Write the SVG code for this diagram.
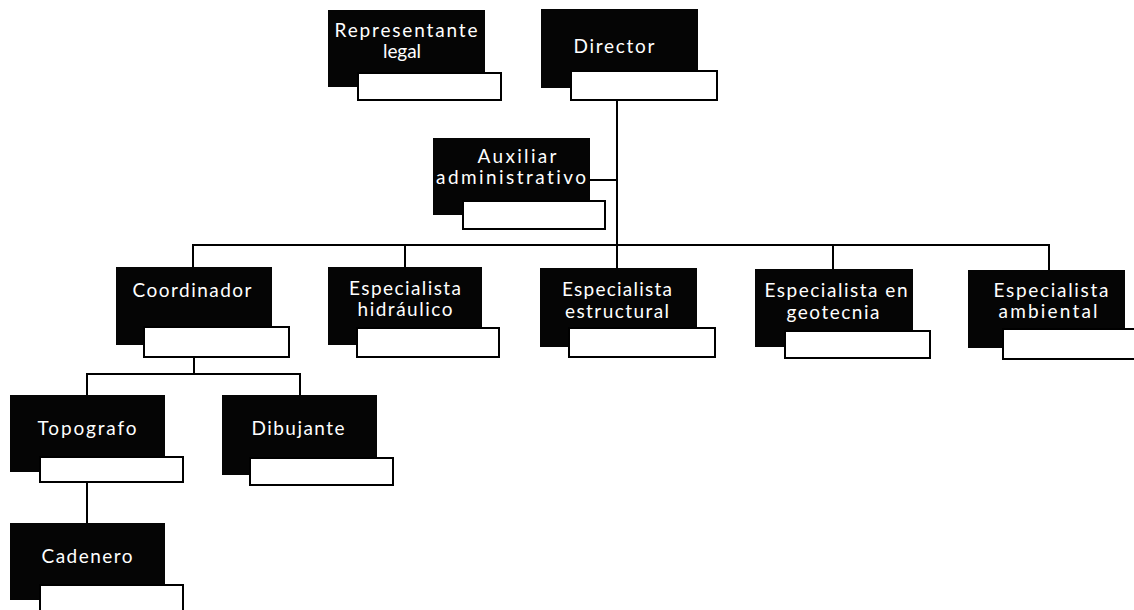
<svg xmlns="http://www.w3.org/2000/svg" width="1134" height="610" viewBox="0 0 1134 610">
<style>
.bg{fill:#fff}
.blk{fill:#050505}
.wht{fill:#fff;stroke:#000;stroke-width:2}
.lbl{font-family:Lato,"Open Sans","Liberation Sans",sans-serif;font-size:19px;fill:#fff;text-anchor:middle;font-variant-ligatures:none}
.conn{stroke:#000;stroke-width:2;fill:none}
</style>
<rect class="bg" x="0" y="0" width="1134" height="610"/>
<g id="connectors">
<path class="conn" d="M617,100 V268"/>
<path class="conn" d="M590,180 H617"/>
<path class="conn" d="M193,267 V245 H1049 V270"/>
<path class="conn" d="M405,245 V267"/>
<path class="conn" d="M833,245 V269"/>
<path class="conn" d="M194,357 V374"/>
<path class="conn" d="M87,395 V374 H300 V395"/>
<path class="conn" d="M87,482 V523"/>
</g>
<g id="representante">
<rect class="blk" x="328" y="10" width="157" height="77"/>
<rect class="wht" x="358" y="73" width="143" height="27"/>
<text class="lbl" x="406" y="37" textLength="143" lengthAdjust="spacing">Representante</text>
<text class="lbl" x="402" y="58" textLength="38" lengthAdjust="spacing">legal</text>
</g>
<g id="director">
<rect class="blk" x="541" y="9" width="157" height="79"/>
<rect class="wht" x="571" y="71" width="146" height="29"/>
<text class="lbl" x="614" y="53" textLength="81" lengthAdjust="spacing">Director</text>
</g>
<g id="auxiliar">
<rect class="blk" x="433" y="138" width="157" height="77"/>
<rect class="wht" x="463" y="201" width="142" height="28"/>
<text class="lbl" x="517" y="163" textLength="79" lengthAdjust="spacing">Auxiliar</text>
<text class="lbl" x="511" y="184" textLength="150" lengthAdjust="spacing">administrativo</text>
</g>
<g id="coordinador">
<rect class="blk" x="116" y="267" width="156" height="78"/>
<rect class="wht" x="144" y="327" width="145" height="30"/>
<text class="lbl" x="192" y="297" textLength="119" lengthAdjust="spacing">Coordinador</text>
</g>
<g id="hidraulico">
<rect class="blk" x="328" y="267" width="154" height="78"/>
<rect class="wht" x="357" y="328" width="142" height="29"/>
<text class="lbl" x="405" y="295" textLength="112" lengthAdjust="spacing">Especialista</text>
<text class="lbl" x="405" y="316" textLength="95" lengthAdjust="spacing">hidráulico</text>
</g>
<g id="estructural">
<rect class="blk" x="540" y="268" width="157" height="79"/>
<rect class="wht" x="569" y="328" width="146" height="29"/>
<text class="lbl" x="617" y="296" textLength="110" lengthAdjust="spacing">Especialista</text>
<text class="lbl" x="617" y="318" textLength="104" lengthAdjust="spacing">estructural</text>
</g>
<g id="geotecnia">
<rect class="blk" x="755" y="269" width="158" height="78"/>
<rect class="wht" x="785" y="331" width="145" height="27"/>
<text class="lbl" x="836" y="297" textLength="143" lengthAdjust="spacing">Especialista en</text>
<text class="lbl" x="833" y="319" textLength="93" lengthAdjust="spacing">geotecnia</text>
</g>
<g id="ambiental">
<rect class="blk" x="968" y="270" width="157" height="78"/>
<rect class="wht" x="1003" y="329" width="145" height="30"/>
<text class="lbl" x="1051" y="297" textLength="115" lengthAdjust="spacing">Especialista</text>
<text class="lbl" x="1048" y="318" textLength="99" lengthAdjust="spacing">ambiental</text>
</g>
<g id="topografo">
<rect class="blk" x="10" y="395" width="155" height="77"/>
<rect class="wht" x="40" y="457" width="143" height="25"/>
<text class="lbl" x="87" y="435" textLength="99" lengthAdjust="spacing">Topografo</text>
</g>
<g id="dibujante">
<rect class="blk" x="222" y="395" width="155" height="80"/>
<rect class="wht" x="250" y="458" width="143" height="27"/>
<text class="lbl" x="298" y="435" textLength="93" lengthAdjust="spacing">Dibujante</text>
</g>
<g id="cadenero">
<rect class="blk" x="10" y="523" width="155" height="77"/>
<rect class="wht" x="40" y="585" width="143" height="35"/>
<text class="lbl" x="87" y="563" textLength="91" lengthAdjust="spacing">Cadenero</text>
</g>
</svg>
